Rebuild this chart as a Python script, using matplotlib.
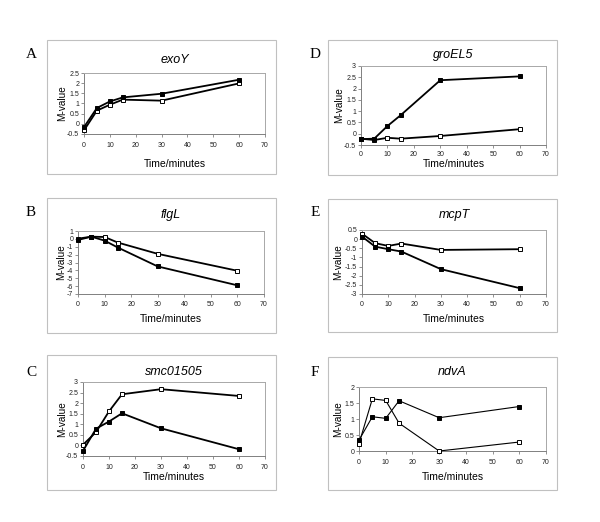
import matplotlib
matplotlib.use("Agg")
import matplotlib.pyplot as plt
from matplotlib.patches import Rectangle
import numpy as np

times = [0, 5, 10, 15, 30, 60]

exoY_filled = [-0.16, 0.78, 1.10, 1.30, 1.48, 2.17]
exoY_open = [-0.32, 0.65, 0.94, 1.19, 1.14, 1.99]

groEL5_filled = [-0.24, -0.22, 0.34, 0.82, 2.37, 2.54]
groEL5_open = [-0.22, -0.28, -0.18, -0.22, -0.10, 0.20]

flgL_filled = [-0.14, 0.28, -0.22, -1.10, -3.50, -5.90]
flgL_open = [0.03, 0.28, 0.24, -0.47, -1.90, -4.05]

mcpT_filled = [0.14, -0.41, -0.55, -0.68, -1.64, -2.68]
mcpT_open = [0.30, -0.22, -0.37, -0.24, -0.59, -0.55]

smc01505_filled = [-0.26, 0.79, 1.13, 1.52, 0.81, -0.18]
smc01505_open = [0.03, 0.63, 1.61, 2.42, 2.66, 2.34]

ndvA_filled = [0.34, 1.07, 1.02, 1.57, 1.04, 1.39]
ndvA_open = [0.23, 1.63, 1.58, 0.87, 0.00, 0.28]

W, H = 600, 522
fig = plt.figure(figsize=(6, 5.22), dpi=100)
plt.rcParams['font.family'] = ['Liberation Sans', 'DejaVu Sans']

def fx(x):
    return x / W

def fy(y):
    return 1 - y / H

panels = [
    # letter, title, filled, open, ylim, ystep, axes box (l, r, t, b), panel box (l,t,r,b),
    # title y, xlabel y, letter y, ylabel x, lw, xpad
    ("A", "exoY", exoY_filled, exoY_open, (-0.5, 2.5), 0.5, (84, 265, 73, 134), (47, 40, 276, 174), 60, 164, 55, 62, 1.3, 3.5),
    ("D", "groEL5", groEL5_filled, groEL5_open, (-0.5, 3.0), 0.5, (361, 546, 66, 145), (328, 40, 557, 175), 55, 164, 55, 339, 1.3, 2.0),
    ("B", "flgL", flgL_filled, flgL_open, (-7, 1), 1, (78, 264, 231, 294), (47, 198, 276, 333), 215, 319, 213, 61, 1.3, 3.0),
    ("E", "mcpT", mcpT_filled, mcpT_open, (-3, 0.5), 0.5, (362, 546, 230, 294), (328, 199, 557, 332), 215, 319, 213, 338, 1.3, 3.0),
    ("C", "smc01505", smc01505_filled, smc01505_open, (-0.5, 3.0), 0.5, (83, 265, 382, 456), (47, 355, 276, 490), 372, 477, 373, 62, 1.3, 3.5),
    ("F", "ndvA", ndvA_filled, ndvA_open, (0, 2), 0.5, (359, 546, 387, 451), (328, 357, 557, 490), 372, 477, 373, 338, 0.8, 4.0),
]

for (letter, title, filled, opn, ylim, ystep, ab, pb, ty, xly, ly, ylx, lw, xpad) in panels:
    l, r, t, b = ab
    ax = fig.add_axes([fx(l), fy(b), fx(r) - fx(l), fy(t) - fy(b)])
    ax.plot(times, opn, color="black", lw=lw, marker="s", ms=3.2,
            mfc="white", mec="black", mew=0.7, zorder=3, clip_on=False)
    ax.plot(times, filled, color="black", lw=lw, marker="s", ms=3.2,
            mfc="black", mec="black", mew=0.7, zorder=4, clip_on=False)
    ax.set_xlim(0, 70)
    ax.set_ylim(*ylim)
    ax.set_xticks(np.arange(0, 71, 10))
    yt = np.arange(ylim[0], ylim[1] + ystep / 2, ystep)
    ax.set_yticks(yt)
    ax.set_yticklabels([("%g" % v) for v in yt])
    ax.tick_params(axis="both", labelsize=5.0, length=2, width=0.6,
                   color="#808080", pad=1.5, labelcolor="#222222")
    ax.tick_params(axis="x", pad=xpad)
    for s in ax.spines.values():
        s.set_color("#a8a8a8")
        s.set_linewidth(0.7)
    ax.spines["left"].set_color("#808080")
    ax.spines["bottom"].set_color("#808080")
    # panel box
    bl, bt, br, bb = pb
    fig.patches.append(Rectangle((fx(bl), fy(bb)), fx(br) - fx(bl), fy(bt) - fy(bb),
                                 transform=fig.transFigure, fill=False,
                                 edgecolor="#c0c0c0", linewidth=0.8))
    cx = (l + r) / 2
    fig.text(fx(cx), fy(ty), title, ha="center", va="center", fontsize=9,
             style="italic")
    fig.text(fx(cx), fy(xly), "Time/minutes", ha="center", va="center", fontsize=7.5)
    fig.text(fx(ylx), fy((t + b) / 2), "M-value", ha="center", va="center",
             fontsize=7.2, rotation=90)
    lx = 31 if letter in "ABC" else 315
    fig.text(fx(lx), fy(ly), letter, ha="center", va="center", fontsize=11,
             family=["Liberation Serif", "DejaVu Serif"])

fig.savefig("out.png", dpi=100, facecolor="white")
